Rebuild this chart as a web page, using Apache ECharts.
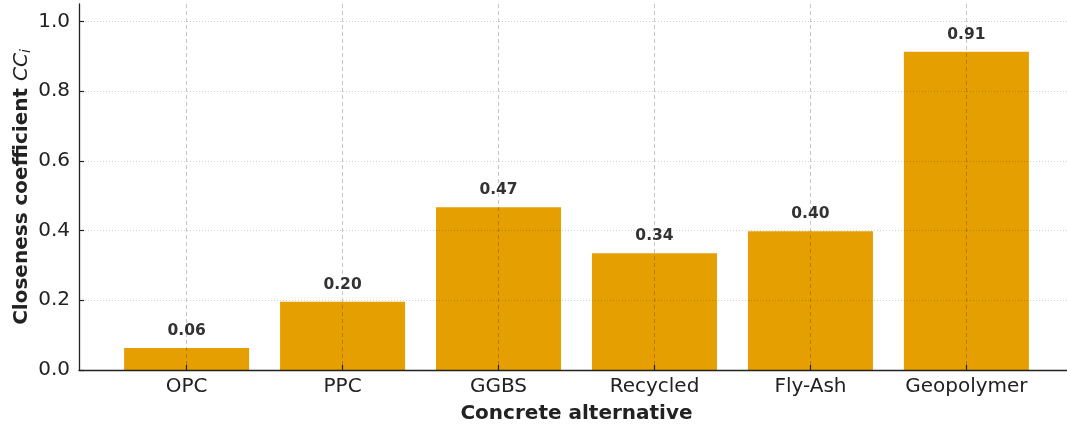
<!DOCTYPE html>
<html><head><meta charset="utf-8">
<script src="https://cdn.jsdelivr.net/npm/echarts@6/dist/echarts.min.js"></script>
<style>html,body{margin:0;padding:0;background:#fff}#c{width:1067px;height:425px}</style>
</head><body><div id="c"></div>
<script>
const categories = ['OPC', 'PPC', 'GGBS', 'Recycled', 'Fly-Ash', 'Geopolymer'];
const values = [0.063, 0.196, 0.467, 0.335, 0.398, 0.913];
const yTicks = [0, 0.2, 0.4, 0.6, 0.8, 1.0];

const positions = categories.map((c, i) => i);
const font = 'DejaVu Sans';
const chart = echarts.init(document.getElementById('c'));
chart.setOption({
  animation: false,
  backgroundColor: '#fff',
  grid: { left: 79, top: 4, height: 366, width: 995, outerBoundsMode: 'none', containLabel: false },
  xAxis: {
    type: 'value', min: -0.69, max: 5.69, z: 5,
    name: 'Concrete alternative', nameLocation: 'middle', nameGap: 34,
    nameTextStyle: { fontFamily: font, fontWeight: 'bold', fontSize: 20, color: '#222' },
    axisLine: { show: true, onZero: false, lineStyle: { color: '#222', width: 1.3 } },
    axisTick: { show: true, inside: true, length: 5, customValues: positions, lineStyle: { color: '#222', width: 1.2 } },
    axisLabel: { customValues: positions, formatter: v => categories[Math.round(v)], fontFamily: font, fontSize: 20, color: '#222', margin: 7 },
    splitLine: { show: true, lineStyle: { color: 'rgba(0,0,0,0.22)', type: [4, 3], width: 1 } }
  },
  yAxis: {
    type: 'value', min: 0, max: 1.05, z: 5,
    name: '{b|Closeness coefficient }{it|CC}{sub|i}', nameLocation: 'middle', nameGap: 46, nameMoveOverlap: false,
    nameTextStyle: { rich: {
      b: { fontFamily: font, fontWeight: 'bold', fontSize: 20, color: '#222' },
      it: { fontFamily: font, fontStyle: 'italic', fontSize: 20, color: '#222' },
      sub: { fontFamily: font, fontStyle: 'italic', fontSize: 14, color: '#222', verticalAlign: 'bottom', padding: [8, 0, 0, 0] }
    } },
    axisLine: { show: true, onZero: false, lineStyle: { color: '#222', width: 1.3 } },
    axisTick: { show: true, inside: true, length: 5, customValues: yTicks, lineStyle: { color: '#222', width: 1.2 } },
    axisLabel: { customValues: yTicks, formatter: v => v.toFixed(1), fontFamily: font, fontSize: 20, color: '#222', margin: 9 },
    splitLine: { show: true, lineStyle: { color: 'rgba(0,0,0,0.18)', type: [1, 2], width: 1 } }
  },
  series: [{
    type: 'bar', barWidth: 125, z: 2,
    data: values.map((v, i) => [positions[i], v]),
    itemStyle: { color: '#E69F00' },
    label: { show: true, position: 'top', distance: 9, formatter: p => p.value[1].toFixed(2),
      fontFamily: font, fontWeight: 'bold', fontSize: 15.5, color: '#333' }
  }]
});
</script></body></html>
